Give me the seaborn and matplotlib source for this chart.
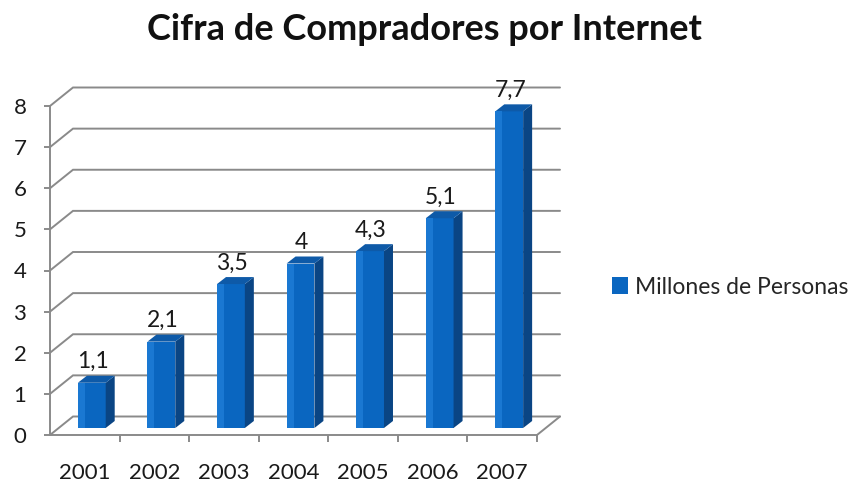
import matplotlib
matplotlib.use("Agg")
import matplotlib.pyplot as plt
from matplotlib.patches import Polygon, Rectangle
import seaborn as sns
import pandas as pd

# Data
years = ["2001", "2002", "2003", "2004", "2005", "2006", "2007"]
buyers = [1.1, 2.1, 3.5, 4.0, 4.3, 5.1, 7.7]
y_ticks = [0, 1, 2, 3, 4, 5, 6, 7, 8]
series_name = "Millones de Personas"
title = "Cifra de Compradores por Internet"

sns.set_theme(style="white")
plt.rcParams["font.family"] = ["Lato", "DejaVu Sans"]

W, H, DPI = 849, 484, 100
fig = plt.figure(figsize=(W / DPI, H / DPI), dpi=DPI)
fig.patch.set_facecolor("white")

# front plane of the 3-D box, in pixels
x0, x1, yb, yt = 50, 537, 435, 106
ax = fig.add_axes([x0 / W, 1 - yb / H, (x1 - x0) / W, (yb - yt) / H])
ax.set_facecolor("none")
ncat = len(years)
ax.set_xlim(-0.5, ncat - 0.5)
ax.set_ylim(0, 8)

ppx = (x1 - x0) / ncat       # pixels per category
ppy = (yb - yt) / 8.0        # pixels per unit


def d(px, py):
    """pixel offset (right, up) -> data offset"""
    return px / ppx, py / ppy


GRID = "#8a8a8a"
TEXT = "#1a1a1a"
BOX_DX, BOX_DY = d(23, 18.5)

# walls: gridlines on left and back walls, floor outline
for v in y_ticks:
    ax.plot([-0.5, -0.5 + BOX_DX, ncat - 0.5 + BOX_DX],
            [v, v + BOX_DY, v + BOX_DY],
            color=GRID, lw=1.4, clip_on=False, zorder=1, solid_joinstyle="miter")
ax.plot([ncat - 0.5, ncat - 0.5 + BOX_DX], [0, BOX_DY],
        color=GRID, lw=1.4, clip_on=False, zorder=1)

# bars (front faces)
df = pd.DataFrame({"year": years, "value": buyers})
FRONT = "#0a66c0"
SIDE = "#0a4584"
TOP = "#0e5aa8"
BAR_W = 0.40
sns.barplot(data=df, x="year", y="value", color=FRONT, saturation=1,
            width=BAR_W, ax=ax, zorder=3, linewidth=0)
ax.set_xlim(-0.5, ncat - 0.5)
ax.set_ylim(0, 8)

front_off_x, front_off_y = d(7, 7)
depth_x, depth_y = d(9, 7)
for p in ax.patches:
    bx = p.get_x() + front_off_x
    bw = p.get_width()
    h = p.get_height()
    p.set_xy((bx, front_off_y))
    p.set_edgecolor("none")
    p.set_clip_on(False)
    # lighter left strip of the front face
    ax.add_patch(Rectangle((bx, front_off_y), bw * 0.25, h, facecolor="#1a78d2",
                           edgecolor="none", zorder=3.1, clip_on=False))
    base = front_off_y
    side = Polygon([(bx + bw, base), (bx + bw + depth_x, base + depth_y),
                    (bx + bw + depth_x, base + h + depth_y), (bx + bw, base + h)],
                   closed=True, facecolor=SIDE, edgecolor="none", zorder=3, clip_on=False)
    top = Polygon([(bx, base + h), (bx + bw, base + h),
                   (bx + bw + depth_x, base + h + depth_y), (bx + depth_x, base + h + depth_y)],
                  closed=True, facecolor=TOP, edgecolor="none", zorder=3, clip_on=False)
    ax.add_patch(side)
    ax.add_patch(top)

# value labels
for i, v in enumerate(buyers):
    ax.annotate(f"{v:g}".replace(".", ","), xy=(i, v), xytext=(8 * 0.72, 28 * 0.72),
                textcoords="offset points", ha="center", va="center",
                fontsize=16.5, color=TEXT, zorder=5, annotation_clip=False)

# axes: front left and front floor edge
for s in ["top", "right"]:
    ax.spines[s].set_visible(False)
for s in ["left", "bottom"]:
    ax.spines[s].set_visible(True)
    ax.spines[s].set_color(GRID)
    ax.spines[s].set_linewidth(1.4)
    ax.spines[s].set_zorder(2)

ax.set_yticks(y_ticks)
ax.set_yticklabels([str(t) for t in y_ticks])
ax.tick_params(axis="y", which="major", direction="out", length=4, width=1.4,
               color=GRID, pad=13, labelsize=16, labelcolor=TEXT, left=True)
ax.set_xticks(range(ncat))
ax.set_xticklabels(years)
ax.tick_params(axis="x", which="major", length=0, pad=20, labelsize=16,
               labelcolor=TEXT)
ax.set_xticks([k + 0.5 for k in range(ncat)], minor=True)
ax.tick_params(axis="x", which="minor", direction="out", length=5, width=1.4,
               color=GRID, bottom=True)
ax.set_xlabel("")
ax.set_ylabel("")

# title
fig.text(0.5, 1 - 30 / H, title, ha="center", va="center",
         fontsize=26, fontweight="bold", color="#111111")

# legend
handle = Rectangle((0, 0), 1, 1, facecolor=FRONT, edgecolor="none")
fig.legend([handle], [series_name], loc="center left",
           bbox_to_anchor=(612 / W, 1 - 287 / H), frameon=False,
           fontsize=16.5, handlelength=0.7, handleheight=0.8, handletextpad=0.3,
           borderaxespad=0, borderpad=0)

fig.savefig("out.png", dpi=DPI, facecolor="white")
